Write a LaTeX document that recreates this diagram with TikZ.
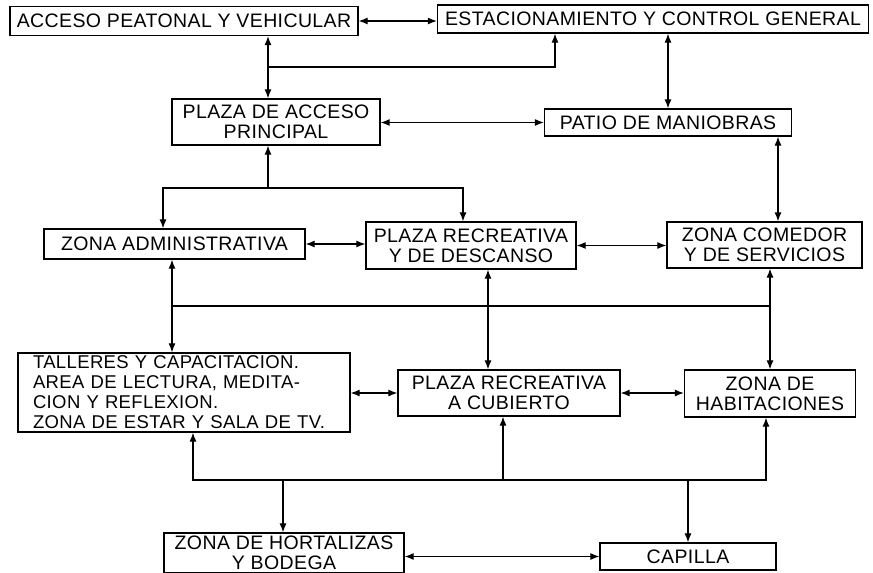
\documentclass[tikz,border=0pt]{standalone}
\usepackage{fontspec}
\setmainfont[LetterSpace=2]{Liberation Sans}
\usetikzlibrary{positioning, arrows.meta, calc}

\begin{document}
\begin{tikzpicture}[
    x=1pt, y=-1pt,
    >={Latex[length=9pt,width=7pt]},
    % Styles
    zona/.style={
        rectangle,
        draw,
        line width=1.3pt,
        inner sep=0pt,
        align=center,
        font=\fontsize{19.5}{20}\selectfont
    },
    flecha/.style={
        line width=1.1pt
    }
]
    \useasboundingbox (0,0) rectangle (873,573);

    % Zonas
    \node[zona, minimum width=348pt, minimum height=29pt] (acceso) at (184,21) {ACCESO PEATONAL Y VEHICULAR};
    \node[zona, minimum width=431pt, minimum height=28pt] (estac) at (653,19) {ESTACIONAMIENTO Y CONTROL GENERAL};
    \node[zona, minimum width=208pt, minimum height=46pt] (plazaacc) at (276,122) {PLAZA DE ACCESO\\PRINCIPAL};
    \node[zona, minimum width=247pt, minimum height=27pt] (patio) at (668,122.5) {PATIO DE MANIOBRAS};
    \node[zona, minimum width=261pt, minimum height=30pt] (admin) at (174.5,244) {ZONA ADMINISTRATIVA};
    \node[zona, minimum width=210pt, minimum height=47pt] (recre) at (471,245.5) {PLAZA RECREATIVA\\Y DE DESCANSO};
    \node[zona, minimum width=195pt, minimum height=46pt] (comedor) at (764.5,245) {ZONA COMEDOR\\Y DE SERVICIOS};
    \node[zona, minimum width=332pt, minimum height=79pt, align=left, text width=302pt,
          font=\fontsize{18.5}{20}\selectfont] (talleres) at (184,392.5)
        {TALLERES Y CAPACITACION.\\AREA DE LECTURA, MEDITA-\\CION Y REFLEXION.\\ZONA DE ESTAR Y SALA DE TV.};
    \node[zona, minimum width=222pt, minimum height=46pt] (cubierto) at (509,393) {PLAZA RECREATIVA\\A CUBIERTO};
    \node[zona, minimum width=171pt, minimum height=47pt] (habit) at (770,393.5) {ZONA DE\\HABITACIONES};
    \node[zona, minimum width=240pt, minimum height=40pt] (hortal) at (284,553) {ZONA DE HORTALIZAS\\Y BODEGA};
    \node[zona, minimum width=176pt, minimum height=27pt] (capilla) at (688,556.5) {CAPILLA};

    % Puntos de enlace
    \coordinate (j1) at (268,67);
    \coordinate (j2) at (555,67);
    \coordinate (j3) at (778,180);
    \coordinate (j4) at (268,188);
    \coordinate (j5) at (163,188);
    \coordinate (j6) at (463,188);
    \coordinate (j7) at (172,306);
    \coordinate (j8) at (770,306);
    \coordinate (j9) at (488,306);
    \coordinate (j10) at (193,480);
    \coordinate (j11) at (766,480);
    \coordinate (j12) at (503,480);
    \coordinate (j13) at (283,480);
    \coordinate (j14) at (688,480);

    % Circulaciones
    \draw[flecha, <->] (acceso.east) -- (estac.west |- acceso.east);
    \draw[flecha, <->] (acceso.south -| j1) -- (plazaacc.north -| j1);
    \draw[flecha, ->] (j1) -- (j2) -- (estac.south -| j2);
    \draw[flecha, <->] (estac.south -| patio.north) -- (patio.north);
    \draw[flecha, <->] (plazaacc.east |- patio.west) -- (patio.west);
    \draw[flecha, <->] (patio.south -| j3) -- (comedor.north -| j3);
    \draw[flecha, ->] (j4) -- (plazaacc.south -| j4);
    \draw[flecha, ->] (j6) -- (j5) -- (admin.north -| j5);
    \draw[flecha, ->] (j5) -- (j6) -- (recre.north -| j6);
    \draw[flecha, <->] (admin.east) -- (recre.west |- admin.east);
    \draw[flecha, <->] (recre.east) -- (comedor.west |- recre.east);
    \draw[flecha, <->] (admin.south -| j7) -- (talleres.north -| j7);
    \draw[flecha] (j7) -- (j8);
    \draw[flecha, <->] (recre.south -| j9) -- (cubierto.north -| j9);
    \draw[flecha, <->] (comedor.south -| j8) -- (habit.north -| j8);
    \draw[flecha, <->] (talleres.east |- cubierto.west) -- (cubierto.west);
    \draw[flecha, <->] (cubierto.east) -- (habit.west |- cubierto.east);
    \draw[flecha, <->] (talleres.south -| j10) -- (j10) -- (j11) -- (habit.south -| j11);
    \draw[flecha, ->] (j12) -- (cubierto.south -| j12);
    \draw[flecha, ->] (j13) -- (hortal.north -| j13);
    \draw[flecha, ->] (j14) -- (capilla.north -| j14);
    \draw[flecha, <->] (hortal.east |- capilla.west) -- (capilla.west);
\end{tikzpicture}
\end{document}
